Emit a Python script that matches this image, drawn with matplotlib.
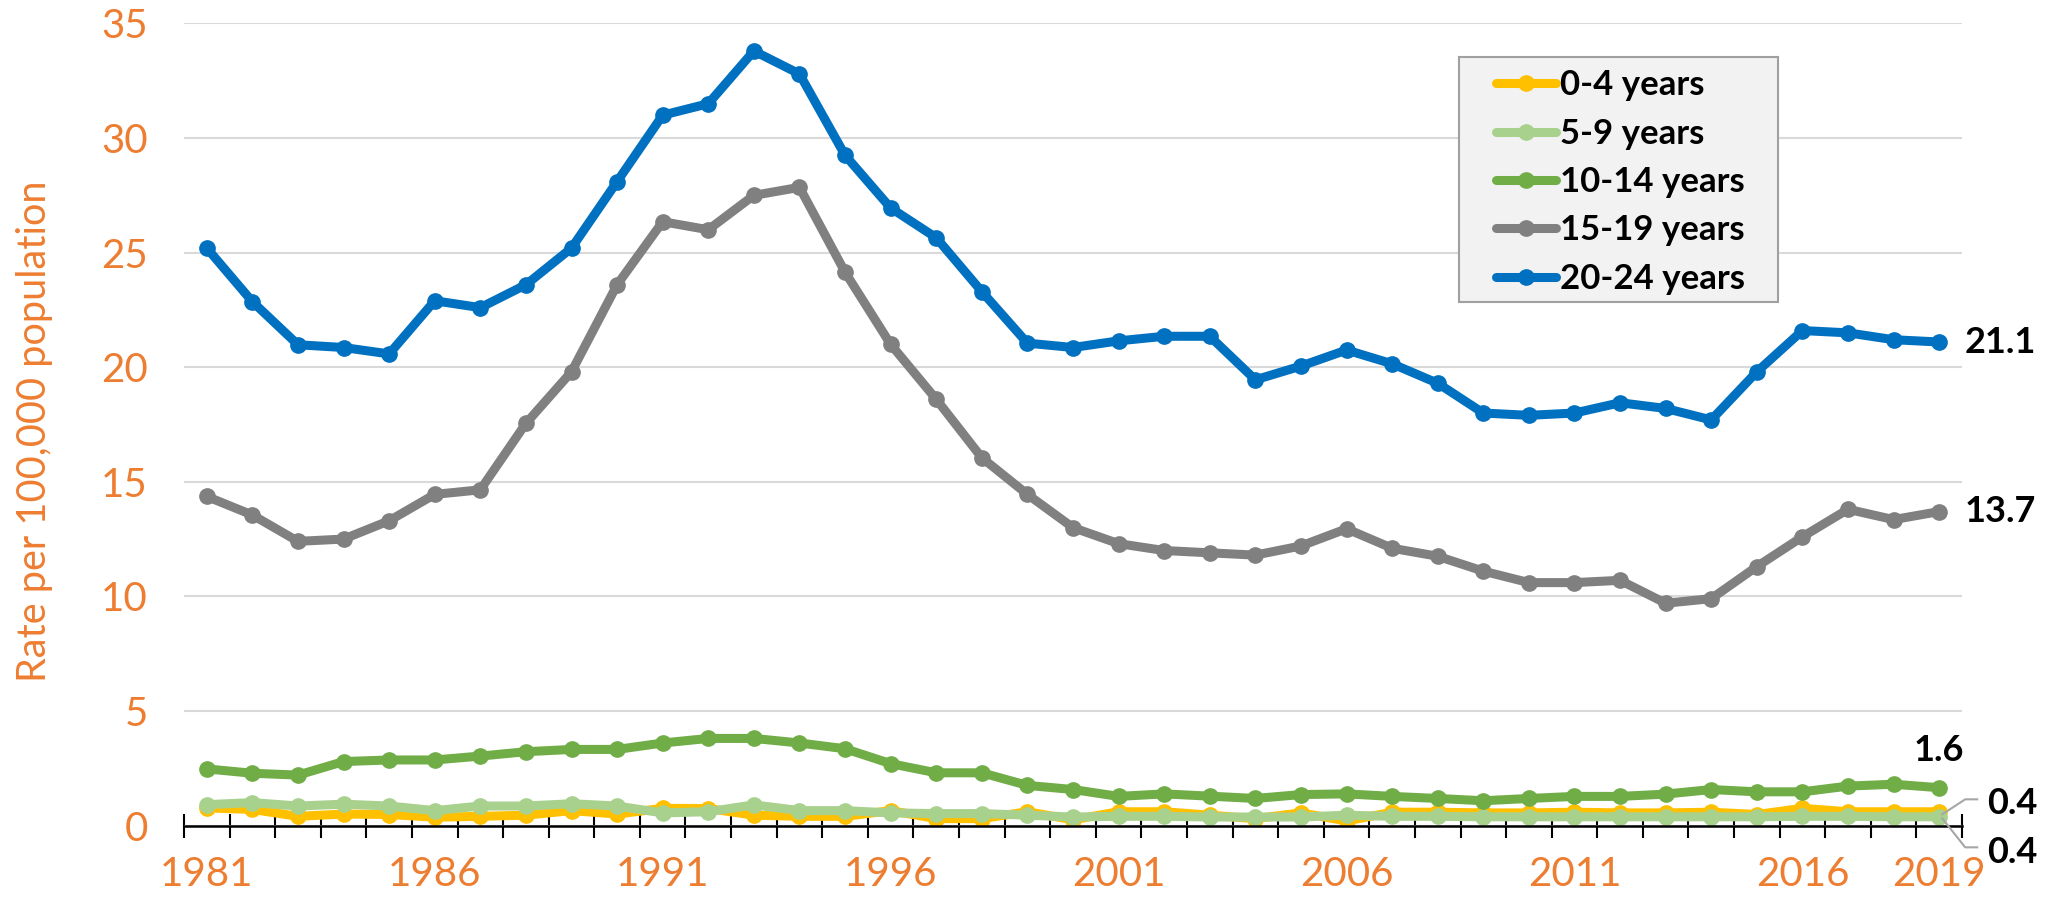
import matplotlib
matplotlib.use("Agg")
import matplotlib.pyplot as plt
import matplotlib.transforms as mtransforms
from matplotlib.patches import Rectangle
import numpy as np

years = list(range(1981, 2020))

age_0_4 = [0.77, 0.70, 0.40, 0.50, 0.48, 0.36, 0.40, 0.45, 0.65, 0.50, 0.75,
           0.74, 0.45, 0.40, 0.40, 0.65, 0.30, 0.30, 0.60, 0.25, 0.60, 0.60,
           0.45, 0.30, 0.55, 0.20, 0.58, 0.58, 0.55, 0.55, 0.58, 0.55, 0.55,
           0.58, 0.48, 0.75, 0.60, 0.60, 0.60]
age_5_9 = [0.91, 1.00, 0.85, 0.93, 0.85, 0.65, 0.85, 0.85, 0.95, 0.85, 0.55,
           0.60, 0.90, 0.65, 0.65, 0.55, 0.52, 0.52, 0.45, 0.37, 0.40, 0.40,
           0.37, 0.37, 0.37, 0.45, 0.40, 0.40, 0.38, 0.38, 0.38, 0.38, 0.38,
           0.38, 0.38, 0.40, 0.40, 0.38, 0.38]
age_10_14 = [2.47, 2.28, 2.20, 2.79, 2.86, 2.86, 3.03, 3.22, 3.32, 3.32, 3.60,
             3.80, 3.80, 3.60, 3.35, 2.70, 2.30, 2.30, 1.75, 1.57, 1.27, 1.38,
             1.28, 1.18, 1.35, 1.38, 1.27, 1.18, 1.08, 1.18, 1.27, 1.27, 1.37,
             1.57, 1.47, 1.47, 1.72, 1.80, 1.65]
age_15_19 = [14.36, 13.55, 12.40, 12.50, 13.30, 14.45, 14.65, 17.55, 19.80,
             23.60, 26.35, 26.00, 27.50, 27.85, 24.15, 21.00, 18.60, 16.05,
             14.45, 13.00, 12.30, 12.00, 11.90, 11.80, 12.20, 12.95, 12.10,
             11.75, 11.10, 10.60, 10.60, 10.70, 9.70, 9.90, 11.30, 12.60,
             13.80, 13.35, 13.70]
age_20_24 = [25.20, 22.86, 20.98, 20.86, 20.58, 22.90, 22.60, 23.60, 25.20,
             28.10, 31.00, 31.50, 33.80, 32.80, 29.25, 26.95, 25.65, 23.30,
             21.05, 20.86, 21.15, 21.35, 21.35, 19.45, 20.05, 20.75, 20.15,
             19.30, 18.00, 17.90, 18.00, 18.45, 18.20, 17.70, 19.80, 21.60,
             21.50, 21.20, 21.10]

series_names = ["0-4 years", "5-9 years", "10-14 years", "15-19 years", "20-24 years"]
series_values = [age_0_4, age_5_9, age_10_14, age_15_19, age_20_24]
series_colors = ["#FFC000", "#A9D18E", "#70AD47", "#808080", "#0070C0"]

end_labels = ["0.4", "0.4", "1.6", "13.7", "21.1"]
y_ticks = [0, 5, 10, 15, 20, 25, 30, 35]
x_label_years = [1981, 1986, 1991, 1996, 2001, 2006, 2011, 2016, 2019]

ORANGE = "#ED7D31"
FONT = ["Lato", "DejaVu Sans"]
plt.rcParams["font.family"] = FONT

fig = plt.figure(figsize=(20.48, 8.97), dpi=100)
ax = fig.add_axes([184 / 2048, 1 - 825.5 / 897, (1962 - 184) / 2048, (825.5 - 23.5) / 897])

x = np.arange(len(years))
for name, vals, col in zip(series_names, series_values, series_colors):
    ax.plot(x, vals, color=col, lw=6.5, marker="o", markersize=11,
            solid_capstyle="round", solid_joinstyle="round", label=name, zorder=3)

ax.set_xlim(-0.5, len(years) - 0.5)
ax.set_ylim(0, 35)

# y axis
ax.set_yticks(y_ticks)
ax.set_yticklabels([str(t) for t in y_ticks])
ax.tick_params(axis="y", length=0, pad=26, labelsize=29, labelcolor=ORANGE)
ax.grid(axis="y", color="#D9D9D9", lw=1.5, zorder=0)
ax.set_axisbelow(True)

# x axis: tick marks between categories, labels at selected years
ax.set_xticks(np.arange(-0.5, len(years) + 0.5, 1.0))
ax.set_xticklabels([])
ax.tick_params(axis="x", which="major", direction="inout", length=17, width=1.5, color="black")
ax.set_xticks([years.index(yv) for yv in x_label_years], minor=True)
ax.set_xticklabels([str(yv) for yv in x_label_years], minor=True)
ax.tick_params(axis="x", which="minor", length=0, pad=22, labelsize=29, labelcolor=ORANGE)

for s in ["top", "right", "left"]:
    ax.spines[s].set_visible(False)
ax.spines["bottom"].set_color("black")
ax.spines["bottom"].set_linewidth(1.8)
ax.spines["bottom"].set_zorder(4)

ax.text(-0.084, 0.491, "Rate per 100,000 population", transform=ax.transAxes,
        rotation=90, ha="center", va="center", fontsize=28.5, color=ORANGE)

# end labels
last = len(years) - 1
ax.annotate(end_labels[4], (last, age_20_24[-1]), xytext=(18, 0), textcoords="offset points",
            ha="left", va="center", fontsize=26, fontweight="bold", color="black")
ax.annotate(end_labels[3], (last, age_15_19[-1]), xytext=(18, 0), textcoords="offset points",
            ha="left", va="center", fontsize=26, fontweight="bold", color="black")
ax.annotate(end_labels[2], (last, age_10_14[-1]), xytext=(0, 27), textcoords="offset points",
            ha="center", va="center", fontsize=26, fontweight="bold", color="black",
            annotation_clip=False)

# 0.4 labels with leader lines
for val, lbl, sign in [(age_0_4[-1], end_labels[0], 1), (age_5_9[-1], end_labels[1], -1)]:
    yv = 0.4
    tr = fig.dpi_scale_trans + mtransforms.ScaledTranslation(last, yv, ax.transData)
    if sign > 0:
        pts = [(0.03, 0.02), (0.26, 0.17), (0.38, 0.17)]
        ty = 0.13
    else:
        pts = [(0.03, -0.02), (0.26, -0.31), (0.38, -0.31)]
        ty = -0.36
    xs, ys = zip(*pts)
    ax.plot(xs, ys, transform=tr, color="#A6A6A6", lw=1.5, clip_on=False, zorder=5)
    ax.text(0.48, ty, lbl, transform=tr, ha="left", va="center", fontsize=26,
            fontweight="bold", color="black", clip_on=False)

# legend box
ax.add_patch(Rectangle(((1459 - 184) / 1778, (825.5 - 302) / 802), (1778 - 1459) / 1778,
                       (302 - 57) / 802, transform=ax.transAxes, facecolor="#F2F2F2",
                       edgecolor="#A0A0A0", lw=1.5, zorder=6))
leg = ax.legend(loc="upper left", bbox_to_anchor=((1496 - 184) / 1778, (825.5 - 69.5) / 802),
                frameon=False, borderpad=0, borderaxespad=0, handlelength=1.73,
                handletextpad=0.12, labelspacing=0.47, numpoints=1,
                prop={"family": FONT, "weight": "bold", "size": 25})
leg.set_zorder(7)

fig.savefig("out.png", dpi=100)
